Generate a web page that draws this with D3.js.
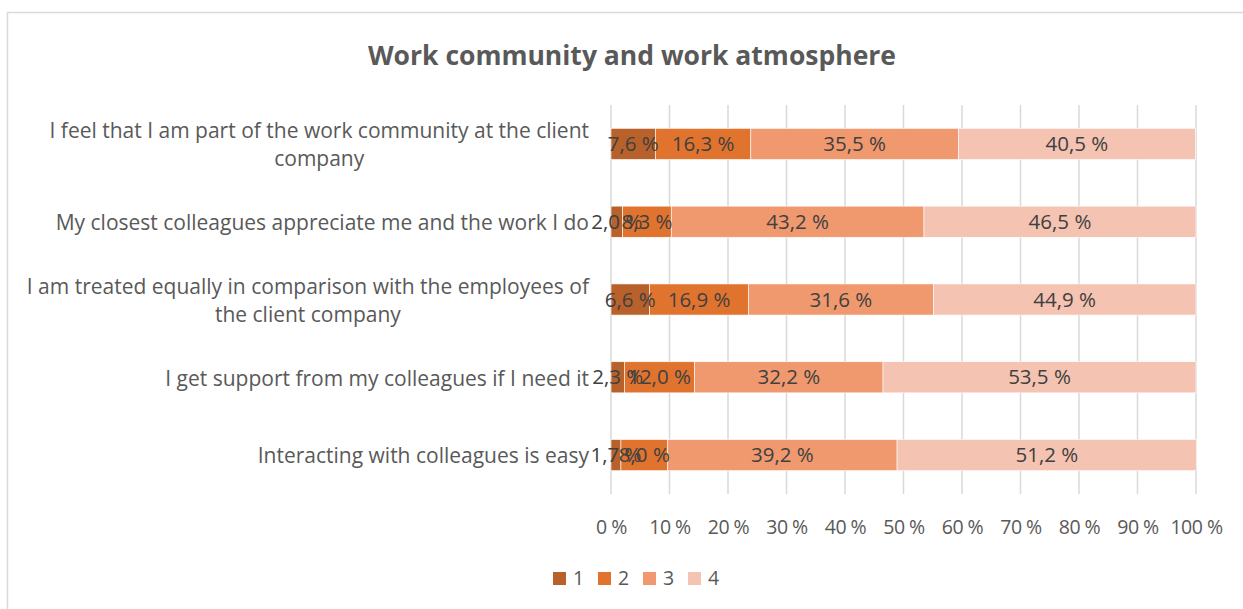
<!DOCTYPE html>
<html>
<head>
<meta charset="utf-8">
<script src="https://cdn.jsdelivr.net/npm/d3@7"></script>
<style>
  body { margin: 0; background: #fff; }
  svg { display: block; font-family: "Open Sans", "Liberation Sans", sans-serif; }
</style>
</head>
<body>
<svg id="chart" width="1243" height="609"></svg>
<script>
const title = "Work community and work atmosphere";
const categories = [
  "I feel that I am part of the work community at the client\ncompany",
  "My closest colleagues appreciate me and the work I do",
  "I am treated equally in comparison with the employees of\nthe client company",
  "I get support from my colleagues if I need it",
  "Interacting with colleagues is easy"
];
const seriesNames = ["1", "2", "3", "4"];
const series1 = [7.6, 2.0, 6.6, 2.3, 1.7];
const series2 = [16.3, 8.3, 16.9, 12.0, 8.0];
const series3 = [35.5, 43.2, 31.6, 32.2, 39.2];
const series4 = [40.5, 46.5, 44.9, 53.5, 51.2];
const tickValues = [0, 10, 20, 30, 40, 50, 60, 70, 80, 90, 100];
const colors = ["#b9612a", "#e0742f", "#f0996f", "#f5c3b1"];

const svg = d3.select("#chart");

// chart frame
svg.append("rect")
  .attr("x", 7.5).attr("y", 12.5)
  .attr("width", 1250).attr("height", 620)
  .attr("fill", "#fff")
  .attr("stroke", "#d9d9d9")
  .attr("stroke-width", 1.5);

svg.append("text")
  .attr("x", 632).attr("y", 65)
  .attr("text-anchor", "middle")
  .style("font-size", "26.5px")
  .style("font-weight", "bold")
  .style("fill", "#595959")
  .text(title);

const x = d3.scaleLinear().domain([0, 100]).range([611, 1196]);
const y = d3.scaleBand().domain(categories).range([105, 494]);
const barH = y.bandwidth() * 0.4;

// gridlines
svg.append("g").selectAll("line")
  .data(tickValues)
  .join("line")
  .attr("x1", d => x(d)).attr("x2", d => x(d))
  .attr("y1", 105).attr("y2", 494)
  .attr("stroke", "#d9d9d9")
  .attr("stroke-width", 1.5);

const rows = categories.map((c, i) => ({
  cat: c, s1: series1[i], s2: series2[i], s3: series3[i], s4: series4[i]
}));
const stack = d3.stack().keys(["s1", "s2", "s3", "s4"]);
const layers = stack(rows);

const fmt = v => v.toFixed(1).replace(".", ",") + " %";

layers.forEach((layer, k) => {
  const g = svg.append("g");
  g.selectAll("rect")
    .data(layer)
    .join("rect")
    .attr("x", d => x(d[0]))
    .attr("width", d => x(d[1]) - x(d[0]))
    .attr("y", d => y(d.data.cat) + (y.bandwidth() - barH) / 2)
    .attr("height", barH)
    .attr("fill", colors[k])
    .attr("stroke", "#fff")
    .attr("stroke-width", 0.6);
});

// data labels
layers.forEach((layer, k) => {
  svg.append("g").selectAll("text")
    .data(layer)
    .join("text")
    .attr("x", d => (x(d[0]) + x(d[1])) / 2)
    .attr("y", d => y(d.data.cat) + y.bandwidth() / 2)
    .attr("dy", "0.35em")
    .attr("text-anchor", "middle")
    .style("font-size", "20.5px")
    .style("fill", "#404040")
    .text(d => fmt(d[1] - d[0]));
});

// category labels (wrapped lines centred in a right-aligned block)
const catG = svg.append("g");
categories.forEach(c => {
  const lines = c.split("\n");
  const t = catG.append("text")
    .style("font-size", "21px")
    .style("fill", "#595959")
    .attr("text-anchor", "middle");
  const spans = lines.map((ln, i) => t.append("tspan").text(ln));
  const w = d3.max(spans, s => s.node().getComputedTextLength());
  const cx = 589 - w / 2;
  const cy = y(c) + y.bandwidth() / 2 + 1;
  const lh = 28;
  spans.forEach((s, i) => {
    s.attr("x", cx)
      .attr("y", cy + (i - (lines.length - 1) / 2) * lh)
      .attr("dy", "0.35em");
  });
});

// x axis
const axis = d3.axisBottom(x)
  .tickValues(tickValues)
  .tickSize(0)
  .tickPadding(0)
  .tickFormat(d => d + " %");
const ax = svg.append("g")
  .attr("transform", "translate(0,527)")
  .call(axis);
ax.select(".domain").remove();
ax.selectAll("text")
  .attr("y", 0)
  .attr("dy", "0.35em")
  .style("font-family", "'Open Sans', sans-serif")
  .style("font-size", "19.5px")
  .style("letter-spacing", "-0.5px")
  .style("fill", "#595959");

// legend
const leg = svg.append("g").selectAll("g")
  .data(seriesNames)
  .join("g")
  .attr("transform", (d, i) => `translate(${553 + i * 45},572)`);
leg.append("rect")
  .attr("width", 13).attr("height", 13)
  .attr("fill", (d, i) => colors[i]);
leg.append("text")
  .attr("x", 20).attr("y", 6.5)
  .attr("dy", "0.35em")
  .style("font-size", "19.5px")
  .style("fill", "#595959")
  .text(d => d);
</script>
</body>
</html>
